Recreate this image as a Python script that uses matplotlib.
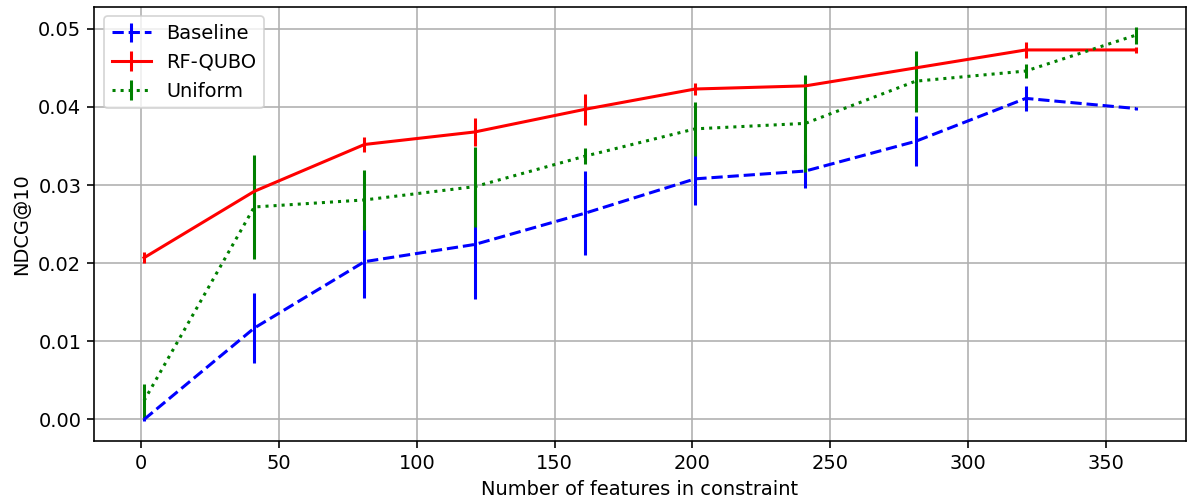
import matplotlib
matplotlib.use("Agg")
import matplotlib.pyplot as plt

features = [1, 41, 81, 121, 161, 201, 241, 281, 321, 361]

baseline = [0.0000, 0.0117, 0.0202, 0.0224, 0.0264, 0.0308, 0.0318, 0.0356, 0.0411, 0.0398]
baseline_err = [0.0002, 0.0045, 0.0047, 0.0070, 0.0054, 0.0034, 0.0022, 0.0032, 0.0016, 0.0002]

rfqubo = [0.0207, 0.0292, 0.0352, 0.0368, 0.0397, 0.0423, 0.0427, 0.0450, 0.0473, 0.0473]
rfqubo_err = [0.0007, 0.0015, 0.0010, 0.0018, 0.0020, 0.0008, 0.0004, 0.0006, 0.0010, 0.0004]

uniform = [0.0024, 0.0272, 0.0281, 0.0298, 0.0337, 0.0372, 0.0379, 0.0433, 0.0446, 0.0492]
uniform_err = [0.0022, 0.0066, 0.0038, 0.0051, 0.0010, 0.0035, 0.0062, 0.0039, 0.0009, 0.0011]

s = 1.17
plt.rcParams['font.size'] = 11.2
plt.rcParams['lines.linewidth'] = 1.5 * s
plt.rcParams['axes.linewidth'] = 0.8 * s
plt.rcParams['grid.linewidth'] = 0.8 * s
plt.rcParams['xtick.major.width'] = 0.8 * s
plt.rcParams['ytick.major.width'] = 0.8 * s
plt.rcParams['xtick.major.size'] = 3.5 * s
plt.rcParams['ytick.major.size'] = 3.5 * s

fig = plt.figure(figsize=(9.504, 4.016), dpi=125)
ax = fig.add_axes([0.0795, 0.122, 0.9185, 0.8645])

ax.errorbar(features, baseline, yerr=baseline_err, color='b', linestyle='--', label='Baseline')
ax.errorbar(features, rfqubo, yerr=rfqubo_err, color='r', linestyle='-', label='RF-QUBO')
ax.errorbar(features, uniform, yerr=uniform_err, color='g', linestyle=':', label='Uniform')

ax.set_xlabel('Number of features in constraint')
ax.set_ylabel('NDCG@10')
ax.set_yticks([0.0, 0.01, 0.02, 0.03, 0.04, 0.05])
ax.grid(True)
ax.legend(loc='upper left')

fig.savefig('out.png', dpi=125)
